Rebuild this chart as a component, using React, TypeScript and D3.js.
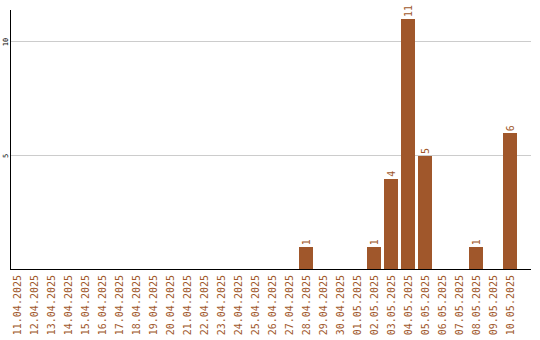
import React from "react";
import * as d3 from "d3";

const dates = [
  "11.04.2025","12.04.2025","13.04.2025","14.04.2025","15.04.2025","16.04.2025",
  "17.04.2025","18.04.2025","19.04.2025","20.04.2025","21.04.2025","22.04.2025",
  "23.04.2025","24.04.2025","25.04.2025","26.04.2025","27.04.2025","28.04.2025",
  "29.04.2025","30.04.2025","01.05.2025","02.05.2025","03.05.2025","04.05.2025",
  "05.05.2025","06.05.2025","07.05.2025","08.05.2025","09.05.2025","10.05.2025",
];
const counts = [
  0,0,0,0,0,0,
  0,0,0,0,0,0,
  0,0,0,0,0,1,
  0,0,0,1,4,11,
  5,0,0,1,0,6,
];
const yTicks = [5, 10];

const W = 540, H = 340;
const COLOR = "#a0572b";
const FONT = "'DejaVu Sans Mono', 'Liberation Mono', monospace";

export default function App() {
  const x = d3.scaleBand<string>()
    .domain(dates)
    .range([8.5, 518.5])
    .paddingInner(3 / 17)
    .paddingOuter(1.5 / 17);
  const y = d3.scaleLinear().domain([0, 11.4]).range([270, 10]);
  const data = dates.map((d, i) => ({ d, v: counts[i] }));

  return (
    <svg width={W} height={H} style={{ position: "absolute", left: 0, top: 0 }}>
      <rect width={W} height={H} fill="#fff" />
      {yTicks.map((t) => (
        <g key={t}>
          <line x1={11} x2={531} y1={y(t)} y2={y(t)} stroke="#cccccc" strokeWidth={1} shapeRendering="crispEdges" />
          <text
            transform={`translate(8,${y(t)}) rotate(-90)`}
            textAnchor="middle"
            fontFamily={FONT}
            fontSize={7}
            fill="#000"
          >
            {t}
          </text>
        </g>
      ))}
      {data.filter((e) => e.v > 0).map((e) => (
        <g key={e.d}>
          <rect
            x={x(e.d)}
            y={y(e.v)}
            width={x.bandwidth()}
            height={y(0) - y(e.v)}
            fill={COLOR}
            shapeRendering="crispEdges"
          />
          <text
            transform={`translate(${(x(e.d) as number) + x.bandwidth() / 2 + 3.5},${y(e.v) - 2}) rotate(-90)`}
            textAnchor="start"
            fontFamily={FONT}
            fontSize={10}
            fill={COLOR}
          >
            {e.v}
          </text>
        </g>
      ))}
      <line x1={10.5} x2={10.5} y1={10} y2={270} stroke="#000" strokeWidth={1} shapeRendering="crispEdges" />
      <line x1={10} x2={531} y1={269.5} y2={269.5} stroke="#000" strokeWidth={1} shapeRendering="crispEdges" />
      {dates.map((d) => (
        <text
          key={d}
          transform={`translate(${(x(d) as number) + x.bandwidth() / 2},275) rotate(-90)`}
          textAnchor="end"
          dy="0.35em"
          fontFamily={FONT}
          fontSize={10}
          fill={COLOR}
        >
          {d}
        </text>
      ))}
    </svg>
  );
}
